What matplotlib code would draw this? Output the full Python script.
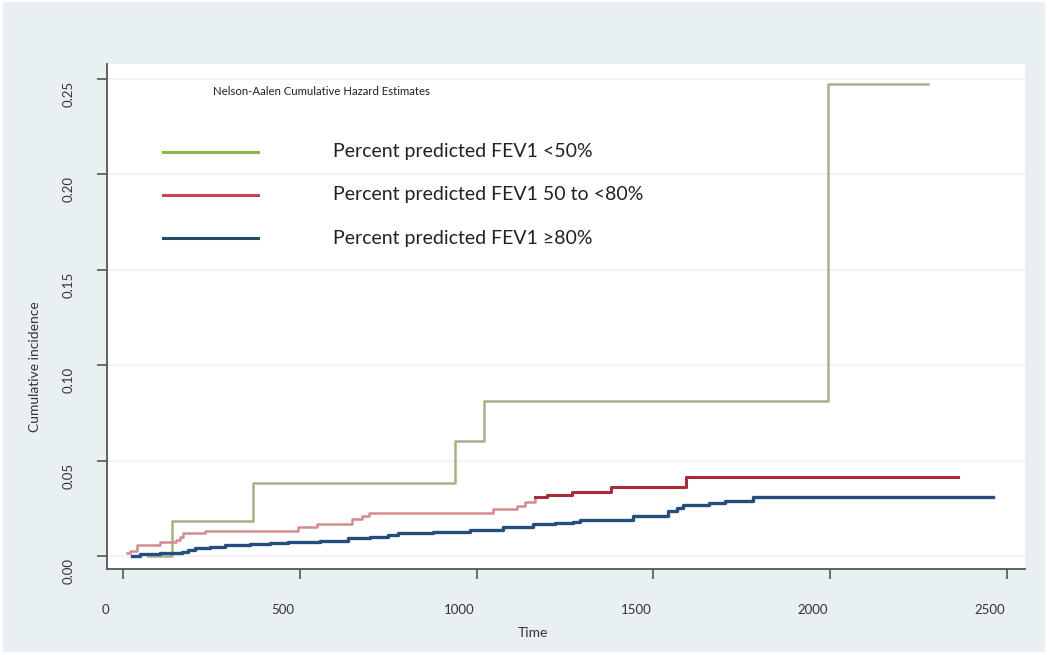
import numpy as np
import matplotlib.pyplot as plt
from matplotlib.patches import Rectangle
from matplotlib.transforms import ScaledTranslation

# -----------------------------
# Nelson-Aalen cumulative hazard
# -----------------------------
green_t = [71, 139, 368, 939, 1021, 1994, 2277]
green_v = [0.0, 0.0183, 0.0383, 0.0603, 0.0812, 0.2474, 0.2474]

red_t = [11, 20, 40, 105, 150, 161, 170, 232, 495, 549, 648, 676, 696,
         1047, 1115, 1137, 1166, 1199, 1270, 1380, 1593, 2362]
red_v = [0.0016, 0.0026, 0.0058, 0.0073, 0.0085, 0.0100, 0.0120, 0.0130,
         0.0152, 0.0168, 0.0194, 0.0210, 0.0225, 0.0246, 0.0260, 0.0283,
         0.0310, 0.0320, 0.0335, 0.0363, 0.0414, 0.0414]

blue_t = [25, 48, 105, 167, 184, 204, 246, 289, 359, 416, 467, 557, 636,
          699, 750, 778, 877, 982, 1075, 1160, 1222, 1273, 1293, 1443,
          1542, 1567, 1584, 1658, 1703, 1782, 2461]
blue_v = [0.0, 0.0008, 0.0015, 0.0020, 0.0030, 0.0040, 0.0048, 0.0058,
          0.0062, 0.0066, 0.0073, 0.0080, 0.0094, 0.0100, 0.0110, 0.0120,
          0.0126, 0.0136, 0.0150, 0.0166, 0.0172, 0.0178, 0.0190, 0.0210,
          0.0236, 0.0250, 0.0267, 0.0280, 0.0290, 0.0310, 0.0310]

labels = ["Percent predicted FEV1 <50%",
          "Percent predicted FEV1 50 to <80%",
          "Percent predicted FEV1 \u226580%"]

x_ticks = [0, 500, 1000, 1500, 2000, 2500]
y_ticks = [0.00, 0.05, 0.10, 0.15, 0.20, 0.25]

plt.rcParams['font.family'] = ['Lato', 'DejaVu Sans']

fig = plt.figure(figsize=(10.5, 6.55), dpi=100, facecolor="white")
fig.patches.append(Rectangle((0.003, 0.005), 0.992, 0.992, transform=fig.transFigure,
                             facecolor="#e9f0f2", edgecolor="none", zorder=-1))
ax = fig.add_axes([0.1019, 0.1313, 0.8743, 0.771])
ax.set_facecolor("white")

# faint horizontal grid
for yv in y_ticks:
    ax.axhline(yv, color="#edf2f3", lw=1.2, zorder=0)

ax.step(green_t, green_v, where="post", color="#a4b387", lw=1.8)
ax.step(red_t, red_v, where="post", color="#d38a90", lw=1.8)
k = red_t.index(1166)
ax.step(red_t[k:], red_v[k:], where="post", color="#aa2a38", lw=2.2)
ax.step(blue_t, blue_v, where="post", color="#244f7c", lw=2.4)

ax.set_xlim(-45, 2551)
ax.set_ylim(-0.0068, 0.2579)

ax.set_xticks(x_ticks)
ax.set_yticks(y_ticks)
ax.set_yticklabels([f"{v:.2f}" for v in y_ticks], rotation=90, va="center")
ax.tick_params(axis="both", direction="out", length=7, width=1.2,
               color="#555555", labelcolor="#333333", labelsize=9.5)
ax.tick_params(axis="x", pad=18)
ax.tick_params(axis="y", pad=16)
for lab in ax.get_xticklabels():
    lab.set_transform(lab.get_transform() + ScaledTranslation(-0.17, 0, fig.dpi_scale_trans))
for lab in ax.get_yticklabels():
    lab.set_transform(lab.get_transform() + ScaledTranslation(0, -0.15, fig.dpi_scale_trans))

for s in ["top", "right"]:
    ax.spines[s].set_visible(False)
for s in ["left", "bottom"]:
    ax.spines[s].set_color("#555555")
    ax.spines[s].set_linewidth(1.3)

ax.set_ylabel("Cumulative incidence", fontsize=10, color="#333333")
ax.yaxis.set_label_coords(-0.072, 0.40)
ax.set_xlabel("Time", fontsize=10, color="#333333")
ax.xaxis.set_label_coords(0.464, -0.115)

# title and legend drawn inside the plot area, as in the original
ax.text(0.115, 0.946, "Nelson-Aalen Cumulative Hazard Estimates", transform=ax.transAxes,
        fontsize=8.2, color="#222222", va="center")
leg_colors = ["#8db64e", "#c4474b", "#1f4e66"]
leg_y = [0.826, 0.741, 0.655]
for lab, c, yy in zip(labels, leg_colors, leg_y):
    ax.plot([0.061, 0.164], [yy, yy], transform=ax.transAxes, color=c, lw=2.2)
    ax.text(0.246, yy, lab, transform=ax.transAxes, fontsize=14,
            color="#222222", va="center")

plt.savefig("out.png", dpi=100, facecolor=fig.get_facecolor())
